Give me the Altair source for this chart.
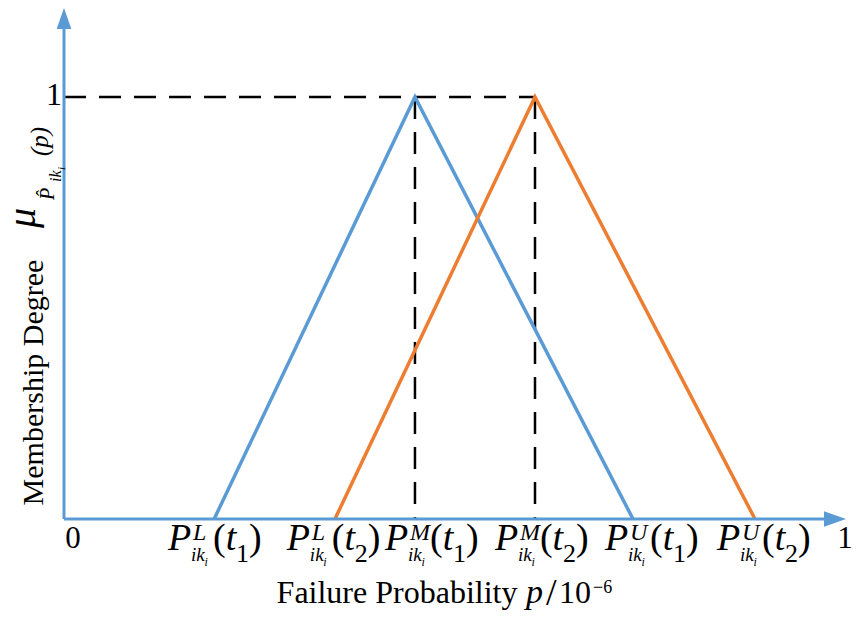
import altair as alt
import pandas as pd

# ---------------- data ----------------
periods = ["t1", "t2"]
lower = [0.192, 0.3465]     # P^L
mode = [0.4488, 0.6023]     # P^M
upper = [0.7276, 0.8836]    # P^U
peak = [1.0, 1.0]

# tick labels: left edge of each label (data units) and its symbols
tick_label_x = [0.133, 0.285, 0.4105, 0.551, 0.6918, 0.835]
tick_sup = ["L", "L", "M", "M", "U", "U"]
tick_sub = ["1", "2", "1", "2", "1", "2"]

x_end_labels = ["0", "1"]
x_end_values = [0.0, 1.0]
y_tick_labels = ["1"]
y_tick_values = [1.0]

x_title = "Failure Probability"
y_title = "Membership Degree"

# ---------------- style ----------------
BLUE = "#5B9BD5"
ORANGE = "#ED7D31"
FONT = "Liberation Serif"
W, H = 782, 511
PX_PER_Y = 422.0
Y_TOP = H / PX_PER_Y
xs = alt.Scale(domain=[0, 1], nice=False, zero=False)
ys = alt.Scale(domain=[0, Y_TOP], nice=False, zero=False)
X = lambda f="x": alt.X(f"{f}:Q", scale=xs, axis=None)
Y = lambda f="y": alt.Y(f"{f}:Q", scale=ys, axis=None)

# triangles
rows = []
for p, l, m, u, h in zip(periods, lower, mode, upper, peak):
    rows += [{"period": p, "x": l, "y": 0.0, "o": 0},
             {"period": p, "x": m, "y": h, "o": 1},
             {"period": p, "x": u, "y": 0.0, "o": 2}]
tri = pd.DataFrame(rows)

lines = alt.Chart(tri).mark_line(strokeWidth=3.5).encode(
    x=X(), y=Y(),
    color=alt.Color("period:N", scale=alt.Scale(domain=periods, range=[BLUE, ORANGE]), legend=None),
    order="o:Q",
)

dash = dict(color="black", strokeWidth=2.5, strokeDash=[22, 13])
hdash = alt.Chart(pd.DataFrame({"x": [0.0], "x2": [max(mode)], "y": [max(peak)]})).mark_rule(**dash).encode(
    x=X(), x2="x2:Q", y=Y())
vdash = alt.Chart(pd.DataFrame({"x": mode, "y": peak, "y2": [0.0, 0.0]})).mark_rule(**dash).encode(
    x=X(), y=Y(), y2="y2:Q")

# axes with arrows
ARROW_LEN_Y, ARROW_LEN_X = 21, 22
yaxis = alt.Chart(pd.DataFrame({"x": [0.0], "y": [0.0], "y2": [Y_TOP - ARROW_LEN_Y / PX_PER_Y]})).mark_rule(
    color=BLUE, strokeWidth=3).encode(x=X(), y=Y(), y2="y2:Q")
xaxis = alt.Chart(pd.DataFrame({"x": [0.0], "x2": [1.0 - ARROW_LEN_X / W], "y": [0.0]})).mark_rule(
    color=BLUE, strokeWidth=3).encode(x=X(), x2="x2:Q", y=Y())
arrow_up = alt.Chart(pd.DataFrame({"x": [0.0], "y": [Y_TOP]})).mark_point(
    shape="M0,0L0.7,2L-0.7,2Z", size=ARROW_LEN_Y ** 2, filled=True, color=BLUE, opacity=1, strokeWidth=0
).encode(x=X(), y=Y())
arrow_right = alt.Chart(pd.DataFrame({"x": [1.0], "y": [0.0]})).mark_point(
    shape="M0,0L-2,-0.7L-2,0.7Z", size=ARROW_LEN_X ** 2, filled=True, color=BLUE, opacity=1, strokeWidth=0
).encode(x=X(), y=Y())

# tick labels  P^{L}_{ik_i}(t_1) ...
tick_df = pd.DataFrame({"x": tick_label_x, "sup": tick_sup, "sub": tick_sub})
tbase = alt.Chart(tick_df).encode(x=X())


def tpart(dx, y, size, style, text=None, field=None):
    props = dict(dx=dx, fontSize=size, fontStyle=style, font=FONT, align="left",
                 baseline="alphabetic", color="black")
    if text is not None:
        props["text"] = text
    enc = {"y": alt.value(y)}
    if field is not None:
        enc["text"] = alt.Text(f"{field}:N")
    return tbase.mark_text(**props).encode(**enc)


tick_layers = [
    tpart(0, 542, 38, "italic", text="P"),
    tpart(25, 532, 24, "italic", field="sup"),
    tpart(23, 553, 19, "italic", text="ik"),
    tpart(36.5, 558, 12, "italic", text="i"),
    tpart(45, 542, 38, "normal", text="("),
    tpart(57.7, 542, 38, "italic", text="t"),
    tpart(68, 554, 26, "normal", field="sub"),
    tpart(81, 542, 38, "normal", text=")"),
]

# end labels 0 and 1 on x axis
end0 = alt.Chart(pd.DataFrame({"x": [x_end_values[0]], "t": [x_end_labels[0]]})).mark_text(
    font=FONT, fontSize=31, align="center", baseline="alphabetic", dx=9, color="black"
).encode(x=X(), y=alt.value(540), text="t:N")
end1 = alt.Chart(pd.DataFrame({"x": [x_end_values[1]], "t": [x_end_labels[1]]})).mark_text(
    font=FONT, fontSize=31, align="center", baseline="alphabetic", dx=-1, color="black"
).encode(x=X(), y=alt.value(540), text="t:N")
ylab = alt.Chart(pd.DataFrame({"y": y_tick_values, "t": y_tick_labels})).mark_text(
    font=FONT, fontSize=32, align="right", baseline="alphabetic", dy=8, color="black"
).encode(x=alt.value(-2), y=Y(), text="t:N")


def txt(text, x, y, size, style="normal", align="left", angle=0):
    return alt.Chart(pd.DataFrame({"t": [text]})).mark_text(
        font=FONT, fontSize=size, fontStyle=style, align=align, baseline="alphabetic",
        angle=angle, color="black"
    ).encode(x=alt.value(x), y=alt.value(y), text="t:N")


titles = [
    txt(x_title, 333, 595, 32, align="center"),
    txt("p", 462, 595, 34, style="italic"),
    txt("/", 482, 597, 38),
    txt("10", 495, 595, 32),
    txt("\u22126", 529, 585, 18),
    txt(y_title, -21, 374.5, 30, align="center", angle=270),
    txt("\u03bc", -29, 220, 40, style="italic", angle=270),
    txt("P\u0302", -10, 192, 20, style="italic", angle=270),
    txt("ik", -3, 174, 16, style="italic", angle=270),
    txt("i", 1, 162, 11, style="italic", angle=270),
    txt("(p)", -16, 148, 25, style="italic", angle=270),
]

chart = alt.layer(
    vdash, hdash, lines, yaxis, xaxis, arrow_up, arrow_right,
    *tick_layers, end0, end1, ylab, *titles
).properties(
    width=W, height=H,
    padding={"left": 56, "top": 0, "right": 6, "bottom": 99},
    autosize=alt.AutoSizeParams(type="none"),
    background="white",
).configure_view(stroke="transparent")

chart.save("out.html", embed_options={"renderer": "svg", "actions": False})
